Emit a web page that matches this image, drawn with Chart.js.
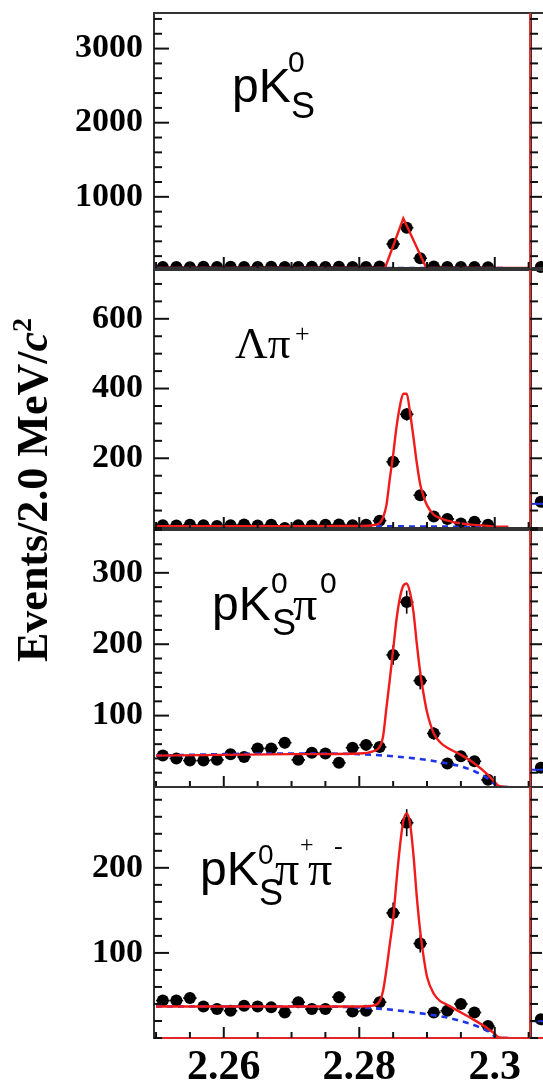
<!DOCTYPE html>
<html>
<head>
<meta charset="utf-8">
<script src="https://cdn.jsdelivr.net/npm/chart.js@4.4.1/dist/chart.umd.min.js"></script>
<style>
  body { margin: 0; background: #fff; width: 543px; height: 1087px; overflow: hidden; position: relative; }
  canvas { position: absolute; left: 0; }
  #ytitle {
    position: absolute; left: 33px; top: 490px;
    transform: translate(-50%, -50%) rotate(-90deg);
    font: bold 44px "Liberation Serif", "Times New Roman", serif;
    line-height: 1; white-space: nowrap; color: #000;
  }
  #ytitle sup { font-size: 28px; vertical-align: 16px; line-height: 0; }
</style>
</head>
<body>
<canvas id="c1" width="543" height="278" style="top:0px"></canvas>
<canvas id="c2" width="543" height="274" style="top:262px"></canvas>
<canvas id="c3" width="543" height="273" style="top:522px"></canvas>
<canvas id="c4" width="543" height="308" style="top:779px"></canvas>
<div id="ytitle">Events/2.0 MeV/<i>c</i><sup>2</sup></div>
<script>
// bin centres (2 MeV bins)
const massBins = [2.251, 2.253, 2.255, 2.257, 2.259, 2.261, 2.263, 2.265, 2.267, 2.269, 2.271, 2.273, 2.275,
                  2.277, 2.279, 2.281, 2.283, 2.285, 2.287, 2.289, 2.291, 2.293, 2.295, 2.297, 2.299];

// events per bin
const countsPK      = [52, 55, 50, 58, 54, 56, 52, 55, 57, 53, 55, 58, 54, 56, 52, 55, 60, 363, 583, 171, 60, 55, 52, 54, 50];
const countsLamPi   = [8, 7, 9, 8, 6, 8, 10, 7, 9, 0, 8, 7, 9, 10, 8, 9, 21, 190, 326, 94, 33, 26, 13, 18, 9];
const countsPKPi0   = [44, 40, 37, 37, 38, 46, 42, 54, 54, 62, 38, 48, 47, 34, 55, 59, 56, 185, 259, 149, 75, 33, 43, 36, 10];
const countsPKPiPi  = [44, 44, 47, 37, 34, 32, 38, 37, 36, 30, 42, 34, 34, 48, 31, 32, 42, 147, 253, 111, 30, 32, 40, 30, 14];

// fit curves (red)
const fitMassPK = [2.25, 2.2838, 2.2865, 2.2899, 2.305];
const fitPK     = [40, 40, 710, 40, 40];
const fitMass = [2.25, 2.26, 2.27, 2.28, 2.282, 2.283, 2.2835, 2.284, 2.2845, 2.285, 2.2855, 2.286, 2.2865, 2.287,
                 2.2875, 2.288, 2.2885, 2.289, 2.2895, 2.29, 2.291, 2.292, 2.293, 2.295, 2.297, 2.299, 2.3, 2.3005, 2.302];
const fitLamPi  = [5, 5, 5, 6, 8, 14, 30, 65, 140, 210, 290, 350, 385, 385, 330, 260, 185, 125, 90, 65, 38, 28, 21, 13, 9, 6, 4, 4, 4];
const fitPKPi0  = [44, 45, 46, 47, 50, 56, 70, 110, 150, 192, 235, 265, 282, 285, 272, 245, 200, 160, 130, 105, 75, 62, 55, 45, 33, 17, 7, 2, 0];
const fitPKPiPi = [37, 37, 37, 37, 38, 43, 55, 80, 110, 140, 185, 225, 255, 264, 252, 215, 165, 125, 95, 72, 52, 43, 39, 30, 21, 11, 5, 1, 0];

// background (blue dashed)
const bkgMass    = [2.25, 2.26, 2.27, 2.28, 2.285, 2.29, 2.293, 2.295, 2.297, 2.299, 2.3, 2.3005, 2.302];
const bkgPK      = [40, 40, 40, 40, 40, 40, 40, 40, 40, 40, 40, 40, 40];
const bkgLamPi   = [5, 5, 5, 5, 5, 4, 4, 3, 3, 2, 1, 0, 0];
const bkgPKPi0   = [44, 46, 47, 46, 43, 38, 33, 29, 22, 12, 4, 0, 0];
const bkgPKPiPi  = [37, 37, 37, 36, 33, 28, 24, 20, 15, 8, 2, 0, 0];

// first bin of the neighbouring (cropped) panel on the right
const edgeMass = 2.3068;
const edgeCounts = [55, 75, 27, 22];

// tick labels
const yTicksPK     = [1000, 2000, 3000];
const yTicksLamPi  = [200, 400, 600];
const yTicksPKPi0  = [100, 200, 300];
const yTicksPKPiPi = [100, 200];
const xTickValues  = [2.26, 2.28, 2.3];
const xTickLabels  = ['2.26', '2.28', '2.3'];

const xMin = 2.2497, xMax = 2.3052;
const binHalf = 0.001;
const SANS = '"Liberation Sans", Arial, sans-serif';
const SERIF = '"Liberation Serif", "Times New Roman", serif';

const panels = [
  { id: 'c1', top: 0, padTop: 13, padBottom: 10, yMin: 40, yMax: 3480, minor: 200,
    counts: countsPK, fitX: fitMassPK, fitY: fitPK, bkgY: bkgPK, yTicks: yTicksPK, smooth: false,
    bottomColor: '#333', label: { x: 232, y: 102, parts: [
      { t: 'pK', f: '48px ' + SANS, dx: 0, dy: 0 },
      { t: '0', f: '30px ' + SANS, dx: 56, dy: -30 },
      { t: 'S', f: '36px ' + SANS, dx: 59, dy: 16 } ] } },
  { id: 'c2', top: 262, padTop: 8, padBottom: 8, yMin: 0, yMax: 740, minor: 50,
    counts: countsLamPi, fitX: fitMass, fitY: fitLamPi, bkgY: bkgLamPi, yTicks: yTicksLamPi, smooth: true,
    bottomColor: '#333', label: { x: 235, y: 358, parts: [
      { t: 'Λπ', f: '45px ' + SERIF, dx: 0, dy: 0 },
      { t: '+', f: '26px ' + SERIF, dx: 60, dy: -16 } ] } },
  { id: 'c3', top: 522, padTop: 8, padBottom: 8, yMin: 0, yMax: 360, minor: 20,
    counts: countsPKPi0, fitX: fitMass, fitY: fitPKPi0, bkgY: bkgPKPi0, yTicks: yTicksPKPi0, smooth: true,
    bottomColor: '#e02828', label: { x: 212, y: 620, parts: [
      { t: 'pK', f: '48px ' + SANS, dx: 0, dy: 0 },
      { t: '0', f: '30px ' + SANS, dx: 59, dy: -27 },
      { t: 'S', f: '36px ' + SANS, dx: 60, dy: 15 },
      { t: 'π', f: '48px ' + SERIF, dx: 81, dy: 0 },
      { t: '0', f: '30px ' + SANS, dx: 108, dy: -27 } ] } },
  { id: 'c4', top: 779, padTop: 8, padBottom: 0, xAxisH: 49, yMin: 0, yMax: 295, minor: 20,
    counts: countsPKPiPi, fitX: fitMass, fitY: fitPKPiPi, bkgY: bkgPKPiPi, yTicks: yTicksPKPiPi, smooth: true,
    bottomColor: '#e02828', label: { x: 200, y: 885, parts: [
      { t: 'pK', f: '48px ' + SANS, dx: 0, dy: 0 },
      { t: '0', f: '28px ' + SANS, dx: 58, dy: -21 },
      { t: 'S', f: '36px ' + SANS, dx: 59, dy: 20 },
      { t: 'π', f: '48px ' + SERIF, dx: 75, dy: 0 },
      { t: '+', f: '24px ' + SERIF, dx: 100, dy: -33 },
      { t: 'π', f: '48px ' + SERIF, dx: 108, dy: 0 },
      { t: '-', f: '26px ' + SERIF, dx: 134, dy: -31 } ] } }
];

function line(ctx, x1, y1, x2, y2) {
  ctx.beginPath(); ctx.moveTo(x1, y1); ctx.lineTo(x2, y2); ctx.stroke();
}

function panelPlugin(p, idx) {
  return {
    id: 'panel',
    beforeDatasetsDraw(chart) {
      // error bars under the markers
      const { ctx, chartArea: a, scales: { x, y } } = chart;
      ctx.save();
      ctx.beginPath(); ctx.rect(a.left, a.top, a.right - a.left, a.bottom - a.top + 4); ctx.clip();
      ctx.strokeStyle = '#000'; ctx.lineWidth = 1.6;
      massBins.forEach((m, i) => {
        const v = p.counts[i];
        const e = Math.sqrt(v);
        const px = x.getPixelForValue(m), py = y.getPixelForValue(v);
        line(ctx, px, y.getPixelForValue(v - e), px, y.getPixelForValue(v + e));
        line(ctx, x.getPixelForValue(m - binHalf), py, x.getPixelForValue(m + binHalf), py);
      });
      ctx.restore();
    },
    afterDraw(chart) {
      const { ctx, chartArea: a, scales: { x, y } } = chart;
      ctx.save();
      // neighbouring panel's first point, cut by the canvas edge
      const ex = x.getPixelForValue(edgeMass), ey = y.getPixelForValue(edgeCounts[idx]);
      ctx.fillStyle = '#000';
      ctx.beginPath(); ctx.arc(ex, ey, 6, 0, Math.PI * 2); ctx.fill();
      ctx.strokeStyle = '#1d35e6'; ctx.lineWidth = 2;
      line(ctx, a.right + 2, ey + 2, chart.width, ey + 2);

      ctx.lineWidth = 2;
      ctx.strokeStyle = '#333';
      line(ctx, a.left, a.top, chart.width, a.top);
      line(ctx, a.left, a.top - 1, a.left, a.bottom + 1);
      ctx.strokeStyle = p.bottomColor;
      line(ctx, a.left, a.bottom, chart.width, a.bottom);
      ctx.strokeStyle = '#e03030';
      line(ctx, a.right, a.top, a.right, a.bottom);
      ctx.strokeStyle = '#333'; ctx.lineWidth = 1;
      line(ctx, a.right + 1.5, a.top, a.right + 1.5, a.bottom);

      // y ticks: inward on the left, plus the neighbouring panel's ticks on the right
      ctx.strokeStyle = '#111'; ctx.lineWidth = 2;
      for (let v = Math.ceil(p.yMin / p.minor) * p.minor; v <= p.yMax; v += p.minor) {
        const py = y.getPixelForValue(v);
        const major = p.yTicks.includes(v);
        line(ctx, a.left, py, a.left + (major ? 15 : 8), py);
        line(ctx, a.right, py, a.right + (major ? 12 : 8), py);
      }
      // x ticks every 5 MeV, major every 20 MeV
      for (let k = 450; k <= 461; k++) {
        const px = x.getPixelForValue(k * 0.005);
        if (px < a.left + 1 || px > a.right - 1) continue;
        line(ctx, px, a.bottom, px, a.bottom - (k % 4 === 0 ? 11 : 6));
      }

      // channel label
      ctx.fillStyle = '#000';
      ctx.textBaseline = 'alphabetic';
      p.label.parts.forEach(part => {
        ctx.font = part.f;
        ctx.fillText(part.t, p.label.x + part.dx, p.label.y + part.dy - p.top);
      });
      ctx.restore();
    }
  };
}

const tickFont = { family: SERIF, weight: 'bold', size: 34 };

panels.forEach((p, idx) => {
  const canvas = document.getElementById(p.id);
  new Chart(canvas, {
    type: 'line',
    data: {
      datasets: [
        { data: p.fitX.map((m, i) => ({ x: m, y: p.fitY[i] })), borderColor: '#f01c1c', borderWidth: 2.4,
          pointRadius: 0, tension: 0, cubicInterpolationMode: p.smooth ? 'monotone' : 'default', order: 1 },
        { data: bkgMass.map((m, i) => ({ x: m, y: p.bkgY[i] })), borderColor: '#1d35e6', borderWidth: 2.6,
          borderDash: [6, 5], pointRadius: 0, cubicInterpolationMode: 'monotone', order: 2 },
        { data: massBins.map((m, i) => ({ x: m, y: p.counts[i] })), showLine: false, pointRadius: 6,
          pointBackgroundColor: '#000', pointBorderWidth: 0, order: 3 }
      ]
    },
    options: {
      responsive: false,
      animation: false,
      events: [],
      layout: { padding: { left: 0, right: 13, top: p.padTop, bottom: p.padBottom } },
      plugins: { legend: { display: false }, tooltip: { enabled: false } },
      scales: {
        x: {
          type: 'linear', min: xMin, max: xMax, display: !!p.xAxisH,
          grid: { display: false, drawTicks: false }, border: { display: false },
          ticks: { font: { family: SERIF, weight: 'bold', size: 42 }, color: '#000', padding: 5,
                   maxRotation: 0, autoSkip: false,
                   callback: v => xTickLabels[xTickValues.indexOf(v)] },
          afterBuildTicks: s => { s.ticks = xTickValues.map(v => ({ value: v })); },
          afterFit: s => { s.height = p.xAxisH || 0; s.paddingLeft = 0; s.paddingRight = 0; }
        },
        y: {
          min: p.yMin, max: p.yMax,
          grid: { display: false, drawTicks: false }, border: { display: false },
          ticks: { font: tickFont, color: '#000', padding: 11, callback: v => String(v) },
          afterBuildTicks: s => { s.ticks = p.yTicks.map(v => ({ value: v })); },
          afterFit: s => { s.width = 154; s.paddingTop = 0; s.paddingBottom = 0; }
        }
      }
    },
    plugins: [panelPlugin(p, idx)]
  });
});
</script>
</body>
</html>
